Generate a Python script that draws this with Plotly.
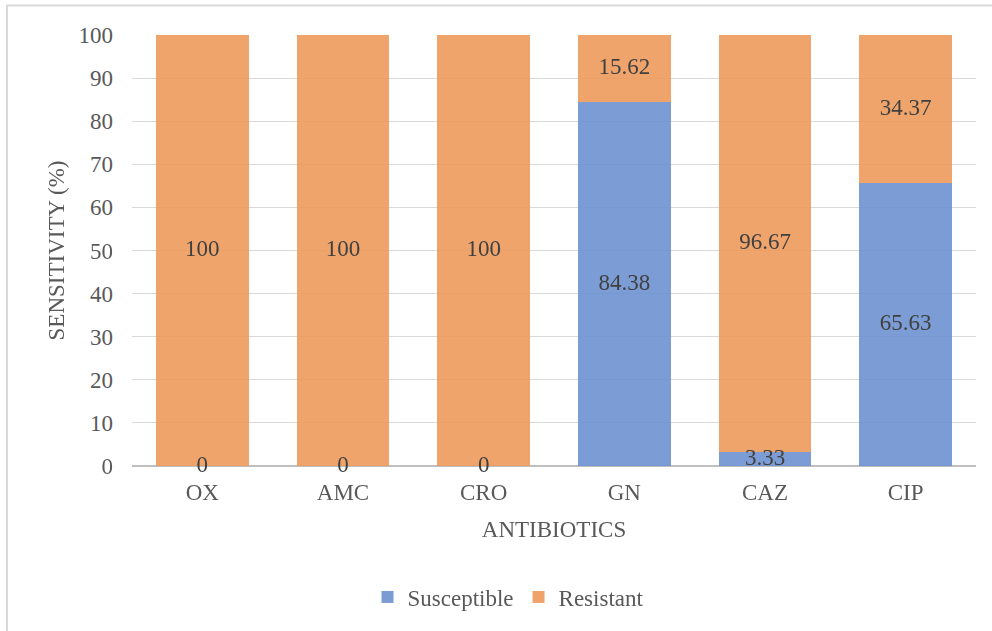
import plotly.graph_objects as go

categories = ["OX", "AMC", "CRO", "GN", "CAZ", "CIP"]
susceptible = [0, 0, 0, 84.38, 3.33, 65.63]
resistant = [100, 100, 100, 15.62, 96.67, 34.37]
y_ticks = [0, 10, 20, 30, 40, 50, 60, 70, 80, 90, 100]

FONT = "Liberation Serif, Times New Roman, serif"
W, H = 992, 631
L, R, T, B = 132, 16, 35, 165
PW, PH = W - L - R, H - T - B

def fmt(v):
    return f"{v:g}"

fig = go.Figure()
fig.add_trace(go.Bar(x=categories, y=susceptible, name="Susceptible",
                     marker=dict(color="#6C91D0", line=dict(width=0)), opacity=0.9))
fig.add_trace(go.Bar(x=categories, y=resistant, name="Resistant",
                     marker=dict(color="#EE9A5C", line=dict(width=0)), opacity=0.9))

# data labels centered in each segment
fig.add_trace(go.Scatter(x=categories, y=[s / 2 for s in susceptible],
                         text=[fmt(s) for s in susceptible], mode="text",
                         textfont=dict(family=FONT, size=23, color="#404040"),
                         showlegend=False, hoverinfo="skip", cliponaxis=False))
fig.add_trace(go.Scatter(x=categories, y=[s + r / 2 for s, r in zip(susceptible, resistant)],
                         text=[fmt(r) for r in resistant], mode="text",
                         textfont=dict(family=FONT, size=23, color="#404040"),
                         showlegend=False, hoverinfo="skip", cliponaxis=False))

px2x = lambda px: (px - L) / PW
px2y = lambda py: (H - B - py) / PH

fig.add_shape(type="rect", xref="paper", yref="paper",
              x0=px2x(7), x1=px2x(1000), y0=px2y(640), y1=px2y(5.5),
              line=dict(color="#D9D9D9", width=2), fillcolor="rgba(0,0,0,0)", layer="below")

fig.update_layout(
    width=W, height=H,
    margin=dict(l=L, r=R, t=T, b=B, autoexpand=False),
    barmode="stack", bargap=0.34,
    plot_bgcolor="white", paper_bgcolor="white",
    font=dict(family=FONT, size=23, color="#595959"),
    legend=dict(orientation="h", x=px2x(508), xanchor="center", y=px2y(597), yanchor="middle",
                font=dict(family=FONT, size=23, color="#595959"),
                itemwidth=30, tracegroupgap=0, traceorder="normal"),
    xaxis=dict(title=dict(text="ANTIBIOTICS", font=dict(size=23, color="#595959"), standoff=16),
               showgrid=False, showline=False, ticks="", ticklabelstandoff=10,
               tickfont=dict(size=23, color="#595959"), automargin=False),
    yaxis=dict(title=dict(text="SENSITIVITY (%)", font=dict(size=23, color="#595959"), standoff=7),
               range=[0, 100], tickvals=y_ticks, showgrid=True, gridcolor="#D9D9D9", gridwidth=1,
               zeroline=True, zerolinecolor="#BFBFBF", zerolinewidth=2,
               showline=False, ticks="", ticklabelstandoff=18,
               tickfont=dict(size=23, color="#595959"), automargin=False),
)

fig.write_html("out.html", config={"displayModeBar": False},
               post_script="document.body.style.margin='0';")
